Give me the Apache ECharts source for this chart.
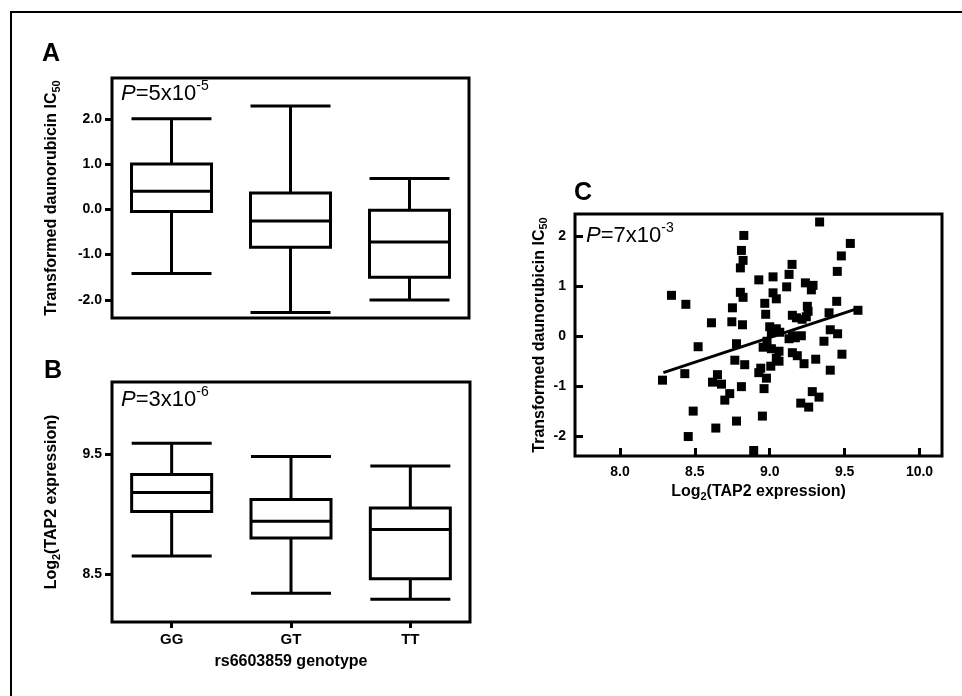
<!DOCTYPE html>
<html>
<head>
<meta charset="utf-8">
<script src="https://cdn.jsdelivr.net/npm/echarts@6/dist/echarts.min.js"></script>
<style>
html,body{margin:0;padding:0;background:#fff;}
#chart{width:962px;height:696px;}
</style>
</head>
<body>
<div id="chart"></div>
<script>
// ---------- data ----------
const genotypes = ['GG', 'GT', 'TT'];
// [min, Q1, median, Q3, max]
const ic50Box = [
  [-1.42, -0.05, 0.40, 1.00, 2.00],
  [-2.28, -0.84, -0.26, 0.36, 2.28],
  [-2.00, -1.50, -0.72, -0.02, 0.68]
];
const tap2Box = [
  [8.65, 9.02, 9.18, 9.33, 9.59],
  [8.34, 8.80, 8.94, 9.12, 9.48],
  [8.29, 8.46, 8.87, 9.05, 9.40]
];
const ticksA = [-2, -1, 0, 1, 2];
const ticksB = [8.5, 9.5];
const ticksCx = [8.0, 8.5, 9.0, 9.5, 10.0];
const ticksCy = [-2, -1, 0, 1, 2];

const tap2Expr = [8.284,8.344,8.433,8.440,8.456,8.489,8.522,8.611,8.618,8.640,8.651,8.678,8.700,8.733,
  8.747,8.751,8.767,8.778,8.778,8.804,8.804,8.811,8.811,8.818,8.822,8.822,8.827,8.833,
  8.893,8.927,8.927,8.940,8.951,8.956,8.962,8.967,8.973,8.978,8.982,9.000,9.007,9.011,
  9.011,9.022,9.022,9.044,9.044,9.044,9.062,9.062,9.067,9.113,9.129,9.129,9.149,9.151,
  9.151,9.151,9.171,9.178,9.184,9.211,9.216,9.229,9.238,9.244,9.251,9.256,9.207,9.260,
  9.278,9.284,9.289,9.307,9.329,9.333,9.362,9.396,9.404,9.404,9.447,9.451,9.453,9.478,
  9.482,9.538,9.589];
const ic50Values = [-0.88,0.82,-0.75,0.64,-2.01,-1.50,-0.21,0.27,-0.92,-1.84,-0.77,-0.96,-1.28,-1.15,
  0.29,0.57,-0.48,-0.15,-1.70,0.88,1.37,1.72,-1.01,0.23,0.78,1.52,2.02,-0.57,
  -2.29,1.13,-0.73,-0.64,-1.60,-0.22,-1.05,0.66,0.44,-0.84,-0.10,0.19,-0.60,0.07,
  -0.25,1.19,0.87,0.75,0.15,-0.44,-0.30,-0.50,0.08,0.99,1.24,-0.05,1.44,0.42,
  0.01,-0.33,-0.03,0.37,-0.39,0.01,0.34,-0.55,1.07,0.39,0.60,0.50,-1.34,-1.42,
  0.93,-1.11,1.02,-0.46,-1.22,2.29,-0.10,0.47,0.13,-0.68,0.70,1.30,0.05,1.61,
  -0.36,1.86,0.52];
const fitX = [8.29, 9.58];
const fitY = [-0.73, 0.55];

// ---------- chart ----------
const FONT = 'Liberation Sans, Arial, sans-serif';
const chart = echarts.init(document.getElementById('chart'), null, {renderer: 'canvas'});

const tickLabelStyle = {fontFamily: FONT, fontWeight: 'bold', fontSize: 14, color: '#000'};
const nameRich = {
  a: {fontFamily: FONT, fontWeight: 'bold', fontSize: 16, color: '#000', lineHeight: 20, verticalAlign: 'middle'},
  s: {fontFamily: FONT, fontWeight: 'bold', fontSize: 11, color: '#000', lineHeight: 12, verticalAlign: 'bottom'}
};
const pRich = {
  i: {fontFamily: FONT, fontStyle: 'italic', fontSize: 22, color: '#000', lineHeight: 26, verticalAlign: 'bottom'},
  n: {fontFamily: FONT, fontSize: 22, color: '#000', lineHeight: 26, verticalAlign: 'bottom'},
  sup: {fontFamily: FONT, fontSize: 14, color: '#000', lineHeight: 16, verticalAlign: 'top'}
};

const scatterData = tap2Expr.map((x, i) => [x, ic50Values[i]]);
const fitData = fitX.map((x, i) => [x, fitY[i]]);

const option = {
  animation: false,
  backgroundColor: '#fff',
  textStyle: {fontFamily: FONT},
  grid: [
    {left: 112, top: 78, width: 357, height: 240, show: true, borderColor: '#000', borderWidth: 3, backgroundColor: 'transparent'},
    {left: 112, top: 382, width: 358, height: 240, show: true, borderColor: '#000', borderWidth: 3, backgroundColor: 'transparent'},
    {left: 575, top: 214, width: 367, height: 242, show: true, borderColor: '#000', borderWidth: 3, backgroundColor: 'transparent'}
  ],
  xAxis: [
    {type: 'category', gridIndex: 0, data: genotypes, axisLine: {show: false}, axisTick: {show: false}, axisLabel: {show: false}, splitLine: {show: false}},
    {type: 'category', gridIndex: 1, data: genotypes, axisLine: {show: false},
      axisTick: {show: true, alignWithLabel: true, length: 6, lineStyle: {color: '#000', width: 3}},
      axisLabel: {fontFamily: FONT, fontWeight: 'bold', fontSize: 15, color: '#000', margin: 10},
      name: 'rs6603859 genotype', nameLocation: 'middle', nameGap: 32,
      nameTextStyle: {fontFamily: FONT, fontWeight: 'bold', fontSize: 16, color: '#000'},
      splitLine: {show: false}},
    {type: 'value', gridIndex: 2, min: 7.7, max: 10.15, axisLine: {show: false, onZero: false},
      axisTick: {show: true, inside: true, length: 8, lineStyle: {color: '#000', width: 3}, customValues: ticksCx},
      axisLabel: Object.assign({margin: 9, customValues: ticksCx, formatter: v => Number(v).toFixed(1)}, tickLabelStyle),
      name: '{a|Log}{s|2}{a|(TAP2 expression)}', nameLocation: 'middle', nameGap: 26,
      nameTextStyle: {rich: nameRich},
      splitLine: {show: false}}
  ],
  yAxis: [
    {type: 'value', gridIndex: 0, min: -2.4, max: 2.9, axisLine: {show: false, onZero: false},
      axisTick: {show: true, length: 7, lineStyle: {color: '#000', width: 3}, customValues: ticksA},
      axisLabel: Object.assign({margin: 10, customValues: ticksA, formatter: v => Number(v).toFixed(1)}, tickLabelStyle),
      name: '{a|Transformed daunorubicin IC}{s|50}', nameLocation: 'middle', nameGap: 50, nameRotate: 90,
      nameTextStyle: {rich: nameRich},
      splitLine: {show: false}},
    {type: 'value', gridIndex: 1, min: 8.1, max: 10.1, axisLine: {show: false, onZero: false},
      axisTick: {show: true, length: 7, lineStyle: {color: '#000', width: 3}, customValues: ticksB},
      axisLabel: Object.assign({margin: 10, customValues: ticksB, formatter: v => Number(v).toFixed(1)}, tickLabelStyle),
      name: '{a|Log}{s|2}{a|(TAP2 expression)}', nameLocation: 'middle', nameGap: 50, nameRotate: 90,
      nameTextStyle: {rich: nameRich},
      splitLine: {show: false}},
    {type: 'value', gridIndex: 2, min: -2.4, max: 2.45, axisLine: {show: false, onZero: false},
      axisTick: {show: true, inside: true, length: 8, lineStyle: {color: '#000', width: 3}, customValues: ticksCy},
      axisLabel: Object.assign({margin: 9, customValues: ticksCy}, tickLabelStyle),
      name: '{a|Transformed daunorubicin IC}{s|50}', nameLocation: 'middle', nameGap: 25, nameRotate: 90,
      nameTextStyle: {rich: nameRich},
      splitLine: {show: false}}
  ],
  series: [
    {type: 'boxplot', xAxisIndex: 0, yAxisIndex: 0, data: ic50Box, boxWidth: [80, 80],
      itemStyle: {color: '#fff', borderColor: '#000', borderWidth: 3}},
    {type: 'boxplot', xAxisIndex: 1, yAxisIndex: 1, data: tap2Box, boxWidth: [80, 80],
      itemStyle: {color: '#fff', borderColor: '#000', borderWidth: 3}},
    {type: 'scatter', xAxisIndex: 2, yAxisIndex: 2, data: scatterData, symbol: 'rect', symbolSize: 9,
      itemStyle: {color: '#000', opacity: 1}},
    {type: 'line', xAxisIndex: 2, yAxisIndex: 2, data: fitData, showSymbol: false, symbol: 'none',
      lineStyle: {color: '#000', width: 3}, z: 3}
  ],
  graphic: [
    {type: 'rect', shape: {x: 11, y: 12, width: 1200, height: 1200}, style: {fill: 'none', stroke: '#000', lineWidth: 2}, silent: true},
    {type: 'text', left: 42, top: 42, style: {text: 'A', font: 'bold 25px ' + FONT, fill: '#000'}},
    {type: 'text', left: 44, top: 359, style: {text: 'B', font: 'bold 25px ' + FONT, fill: '#000'}},
    {type: 'text', left: 574, top: 181, style: {text: 'C', font: 'bold 25px ' + FONT, fill: '#000'}},
    {type: 'text', left: 121, top: 79, style: {text: '{i|P}{n|=5x10}{sup|-5}', rich: pRich}},
    {type: 'text', left: 121, top: 385, style: {text: '{i|P}{n|=3x10}{sup|-6}', rich: pRich}},
    {type: 'text', left: 586, top: 221, style: {text: '{i|P}{n|=7x10}{sup|-3}', rich: pRich}}
  ]
};
chart.setOption(option);
</script>
</body>
</html>
